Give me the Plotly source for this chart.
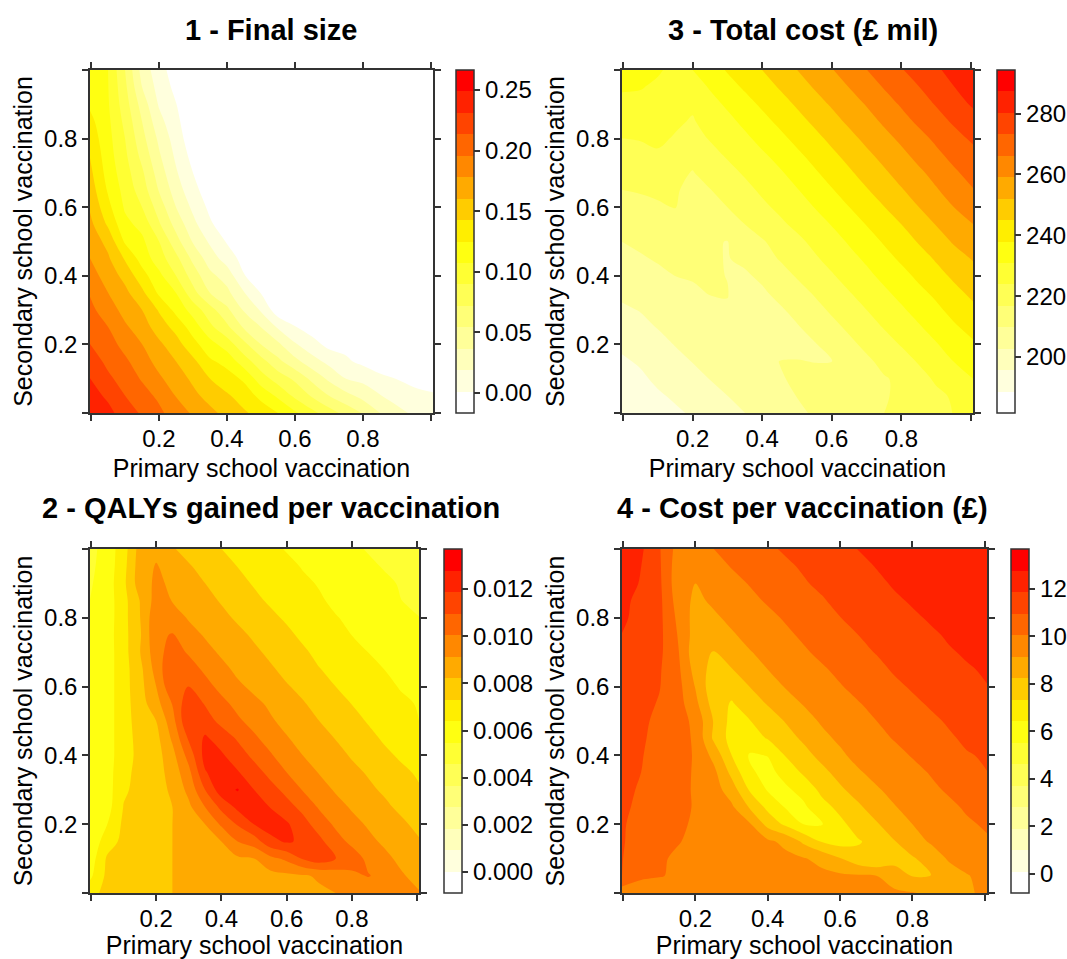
import plotly.graph_objects as go

W, H = 1067, 959
FONT = "Liberation Sans"
GRID = [-0.003, 0.05, 0.1, 0.15, 0.2, 0.25, 0.3, 0.35, 0.4, 0.45, 0.5, 0.55, 0.6, 0.65, 0.7, 0.75, 0.8, 0.85, 0.9, 0.95, 1.006]
Y_UP = [0, 0.05, 0.1, 0.15, 0.2, 0.25, 0.3, 0.35, 0.4, 0.45, 0.5, 0.55, 0.6, 0.65, 0.7, 0.75, 0.8, 0.85, 0.9, 0.95, 1]
Y_DOWN = Y_UP[::-1]

BAND_COLOURS = ["#FFFFFF", "#FFFFDD", "#FFFFBB", "#FFFF99", "#FFFF77", "#FFFF55", "#FFFF33", "#FFFF11",
                "#FFEE00", "#FFCC00", "#FFAA00", "#FF8800", "#FF6600", "#FF4400", "#FF2200", "#FF0000"]

# Panel 1: one list per primary coverage column, secondary coverage rising from 0 to 1
final_size_columns = [
    [.245,.238,.2313,.223,.2136,.207,.2,.1945,.186,.1782,.171,.165,.1585,.152,.147,.142,.136,.13,.122,.116,.11],
    [.236,.228,.217,.209,.203,.1959,.187,.1782,.17,.163,.155,.14,.13,.123,.118,.115,.113,.111,.109,.108,.1074],
    [.223,.2136,.206,.199,.19,.181,.172,.165,.155,.141,.1225,.112,.105,.101,.097,.093,.0897,.085,.08,.076,.072],
    [.211,.203,.194,.186,.1782,.169,.1605,.147,.132,.118,.111,.102,.0897,.081,.075,.067,.06,.0543,.047,.0366,.03],
    [.2,.192,.181,.172,.164,.152,.141,.122,.112,.098,.0897,.074,.064,.053,.046,.039,.033,.025,.017,.012,.008],
    [.186,.1775,.169,.1605,.15,.137,.12,.1074,.0897,.077,.061,.048,.0366,.028,.021,.0155,.0105,.0055,.0015,-.0034,-.0075],
    [.176,.165,.157,.147,.131,.117,.1,.078,.064,.05,.035,.024,.015,.0065,.0012,-.005,-.0106,-.012,-.005,0,0],
    [.165,.154,.1428,.128,.114,.094,.079,.0543,.041,.028,.016,.004,-.003,-.0082,-.005,0,0,0,0,0,0],
    [.155,.145,.133,.119,.099,.076,.058,.041,.029,.011,-.0004,-.01,0,0,0,0,0,0,0,0,0],
    [.145,.135,.122,.098,.077,.052,.035,.02,.0018,-.0053,0,0,0,0,0,0,0,0,0,0,0],
    [.136,.12,.098,.079,.0543,.0366,.017,.0005,-.004,0,0,0,0,0,0,0,0,0,0,0,0],
    [.125,.104,.082,.059,.04,.017,-.0093,-.004,0,0,0,0,0,0,0,0,0,0,0,0,0],
    [.11,.086,.0685,.042,.021,.002,-.006,0,0,0,0,0,0,0,0,0,0,0,0,0,0],
    [.095,.07,.05,.026,.008,-.007,0,0,0,0,0,0,0,0,0,0,0,0,0,0,0],
    [.08,.0543,.033,.014,-.004,0,0,0,0,0,0,0,0,0,0,0,0,0,0,0,0],
    [.066,.042,.0189,.004,-.004,0,0,0,0,0,0,0,0,0,0,0,0,0,0,0,0],
    [.053,.031,.014,-.003,0,0,0,0,0,0,0,0,0,0,0,0,0,0,0,0,0],
    [.0366,.02,.006,-.01,0,0,0,0,0,0,0,0,0,0,0,0,0,0,0,0,0],
    [.025,.011,.0007,-.004,0,0,0,0,0,0,0,0,0,0,0,0,0,0,0,0,0],
    [.0155,.0045,-.0021,0,0,0,0,0,0,0,0,0,0,0,0,0,0,0,0,0,0],
    [.008,.0018,-.0012,0,0,0,0,0,0,0,0,0,0,0,0,0,0,0,0,0,0],
]

# Panels 2-4: one list per secondary coverage row, from 1 down to 0
qalys_thousandths = [
    [5.2,5.9,6.9,8.6,8.9,8.3,7.95,7.6,7.32,7.1,6.85,6.6,6.35,6.15,5.95,5.8,5.6,5.45,5.3,5.2,5.1],
    [5.3,5.9,7.0,8.7,9.2,8.8,8.3,7.95,7.6,7.3,7.1,6.85,6.6,6.35,6.15,5.95,5.8,5.6,5.45,5.3,5.2],
    [5.4,5.95,7.1,8.7,9.3,9.0,8.65,8.23,7.9,7.55,7.25,7.0,6.8,6.55,6.35,6.2,6.0,5.8,5.6,5.45,5.3],
    [5.5,5.95,7.0,8.25,9.5,9.1,8.8,8.5,8.15,7.85,7.5,7.2,7.0,6.7,6.5,6.25,6.1,5.95,5.75,5.5,5.4],
    [5.55,5.95,7.0,8.2,9.8,9.6,9.05,8.75,8.45,8.1,7.8,7.5,7.2,6.95,6.65,6.45,6.25,6.05,5.85,5.65,5.5],
    [5.6,6.0,7.0,8.1,9.9,10.1,9.5,9.05,8.75,8.45,8.1,7.85,7.5,7.15,6.9,6.65,6.4,6.2,6.0,5.85,5.65],
    [5.65,6.0,6.95,8.2,9.7,10.45,9.95,9.45,9.0,8.7,8.4,8.05,7.75,7.45,7.1,6.85,6.65,6.4,6.2,6.0,5.85],
    [5.7,6.0,6.95,7.95,9.5,10.95,10.45,9.9,9.4,8.95,8.65,8.35,8.0,7.7,7.35,7.1,6.9,6.65,6.4,6.2,6.05],
    [5.75,6.0,6.95,7.9,9.14,10.85,10.97,10.35,9.8,9.3,8.95,8.6,8.3,8.0,7.65,7.32,7.1,6.9,6.6,6.35,6.2],
    [5.8,6.0,6.95,7.8,8.8,10.1,11.6,10.9,10.3,9.8,9.35,9.0,8.6,8.3,7.95,7.7,7.3,7.1,6.85,6.55,6.35],
    [5.85,6.0,6.95,7.7,8.23,9.7,11.88,11.4,10.7,10.2,9.75,9.25,8.9,8.55,8.23,7.9,7.6,7.25,7.0,6.7,6.4],
    [5.9,6.0,6.95,7.6,7.95,9.3,11.1,12.0,11.5,10.85,10.2,9.7,9.2,8.85,8.55,8.2,7.9,7.55,7.2,6.95,6.65],
    [5.95,6.0,6.95,7.55,7.85,8.85,10.4,12.2,12.0,11.4,10.75,10.15,9.6,9.14,8.85,8.5,8.15,7.85,7.5,7.2,6.9],
    [5.95,6.0,7.1,7.55,7.85,8.6,9.8,11.8,12.4,11.95,11.35,10.7,10.06,9.55,9.1,8.8,8.45,8.15,7.8,7.5,7.2],
    [5.9,6.0,7.2,7.55,7.85,8.4,9.4,10.97,12.4,12.85,11.88,11.3,10.7,10.0,9.5,9.05,8.75,8.4,8.1,7.75,7.4],
    [5.85,6.05,7.35,7.6,7.9,8.23,8.95,10.06,11.2,12.1,12.4,11.85,11.3,10.7,9.95,9.45,9.05,8.7,8.4,8.05,7.7],
    [5.7,6.4,7.5,7.7,7.9,8.23,8.7,9.14,10.2,11.05,11.88,12.3,12.0,11.3,10.55,9.9,9.4,9.05,8.75,8.4,8.0],
    [5.7,6.9,7.55,7.7,7.95,8.23,8.55,8.85,9.14,10.06,10.5,11.6,12.0,11.7,11.2,10.4,9.85,9.35,9.0,8.65,8.3],
    [5.9,7.45,7.7,7.8,8.0,8.23,8.4,8.6,8.8,9.0,9.14,9.8,10.25,11.05,11.5,11.0,10.5,9.85,9.35,8.95,8.55],
    [6.2,7.55,7.7,7.85,8.05,8.23,8.35,8.45,8.55,8.65,8.75,8.85,8.95,9.05,9.25,9.55,9.85,10.1,9.8,9.25,8.85],
    [7.0,7.6,7.7,7.9,8.05,8.23,8.3,8.4,8.45,8.55,8.6,8.7,8.8,8.9,9.0,9.14,9.3,9.45,9.45,9.4,9.2],
]

total_cost = [
    [233,232.5,231.5,229.5,230.9,234.8,238.5,241.8,245,248.5,252,255.3,258.7,262.3,266,269.7,272.7,276,279,282.8,286],
    [231.5,231.2,230,227,227.5,231.5,235.5,238.8,242,245.5,249,252.5,255.7,259.2,262.5,266.5,270,273,276.5,280,283.5],
    [229.5,229.5,228,226,224.5,228.5,232,235.7,239,242.3,245.8,249.3,252.8,256,259.5,263.3,266.8,270.2,273.6,277.5,281],
    [227,226.7,225.3,224.5,223.5,225.5,229,232.5,236,239.3,242.7,246.2,249.7,253.3,256.5,260.1,263.8,267.3,270.7,274,277.5],
    [223.8,224.2,224.6,223.5,221.5,224.3,226.5,229.5,233,236.2,239.7,243,246.6,250,253.7,257,260.4,264,267.4,270.8,274.3],
    [221.5,222,223.3,221.5,218.5,221.6,224.5,227,229.8,233,236.5,240,243.5,247,250.5,254,257.3,261,264.5,267.9,271],
    [218.5,219,219.8,218.3,216.5,219,221.8,224.6,227.5,230,233.4,237,240.5,244,247.5,251,254.5,257.8,261.2,265,268.5],
    [216.8,217.3,217.7,217.3,215.5,216.6,219.3,222,225,227.8,230.5,234,237.5,241,244.5,248,251.5,255,258.5,262,265.8],
    [214.5,215.2,216.2,217,214,214.8,216.8,219.5,222.5,225.2,228.3,231,234.5,237.9,241.5,244.8,248.3,252,255.5,259,262.5],
    [212.3,213,213.8,214.7,213,211.5,214,216.8,219.7,222.5,225.5,228.3,231.2,234.6,238.2,241.8,245,248.5,252.3,255.7,259],
    [209.8,210.7,211.5,212.5,212,210.5,209.6,213.5,216.2,219.3,222.2,225.5,228.3,231.6,235,238.6,242,245.5,248.9,252.7,256],
    [208,209.3,210.2,210.9,211,210.6,209.5,211,214.2,217.2,220,222.9,226,228.9,232,235.7,239,242.2,245.7,249.2,252.5],
    [206,207.3,208.8,209.8,210.2,210.2,209.7,208.9,211,214,217.4,220.2,223.2,226.5,229.3,232.6,235.9,239.3,242.7,246.1,249.5],
    [204,205.2,206.5,207.8,209,210,209.9,207.8,208.8,211.5,214.2,217.4,220.2,223.5,226.7,229.6,232.9,236.3,239.3,243,246.5],
    [201.7,203,204.5,205.8,207,208.3,209.5,206.2,206.9,208.9,211.6,214.6,217.8,220.7,223.8,226.9,229.9,233.3,236.5,240,243.5],
    [199.3,201,203,204.2,205,205.8,205.7,205.3,205.6,207.2,209.2,212,215,218,221,224.2,227.2,230.2,233.6,236.9,240.3],
    [197,198.5,200.6,203,203.5,204,204.5,204.8,205,205.6,207.3,209.3,212,215.3,218.3,221.2,224.3,227.3,230.4,233.9,237],
    [194.7,196.5,198.5,200.8,202.9,203.8,204.5,205.2,208,209.9,210.1,209.6,209.6,211.6,215.6,218.5,221.2,224.4,227.5,230.9,233.5],
    [192.7,194.5,197,199,201,202.9,204.5,206,207.7,209.2,210.8,212,213.2,214.3,215.2,216.3,218,221.6,224.8,227.9,230.9],
    [191,192.7,194.8,196.7,198.7,200.7,202.7,204.5,206.2,208,209.9,211,212.3,213.4,214.6,216.3,217.9,220,222.5,224.6,228],
    [189,191,192.7,194.6,196.5,198.5,200.6,202.7,204.5,206.5,208.7,210.4,211.8,213.2,214.8,216.8,218.5,220.2,222,224,226],
]

cost_per_vaccination = [
    [12.5,12.0,11.05,9.75,9.6,10.05,10.3,10.55,10.85,11.05,11.25,11.45,11.7,11.88,12.05,12.2,12.3,12.4,12.5,12.6,12.7],
    [12.4,11.87,11.1,9.6,9.3,9.75,10.1,10.35,10.6,10.85,11.05,11.25,11.45,11.65,11.9,12.05,12.2,12.3,12.4,12.5,12.6],
    [12.25,11.8,11.15,9.55,9.15,9.45,9.8,10.1,10.35,10.6,10.9,11.1,11.3,11.5,11.7,11.95,12.1,12.2,12.3,12.4,12.5],
    [12.1,11.6,11.2,9.7,8.95,9.3,9.55,9.85,10.15,10.4,10.65,10.9,11.15,11.3,11.55,11.75,11.95,12.1,12.2,12.3,12.4],
    [12.0,11.6,11.2,9.9,8.8,9.0,9.35,9.6,9.85,10.15,10.4,10.65,10.95,11.15,11.35,11.55,11.75,11.95,12.1,12.2,12.3],
    [11.85,11.45,11.2,10.05,8.75,8.6,9.05,9.4,9.6,9.9,10.2,10.45,10.7,10.96,11.15,11.35,11.55,11.75,11.95,12.1,12.2],
    [11.7,11.4,11.15,10.2,8.55,8.2,8.75,9.1,9.4,9.7,9.95,10.25,10.5,10.75,11.0,11.2,11.4,11.6,11.8,11.95,12.1],
    [11.6,11.3,11.05,10.3,8.8,7.9,8.2,8.75,9.15,9.4,9.7,9.95,10.25,10.5,10.75,11.05,11.25,11.45,11.65,11.8,11.95],
    [11.5,11.25,11.0,10.4,9.1,7.6,7.7,8.25,8.8,9.2,9.45,9.7,10.0,10.3,10.55,10.8,11.05,11.25,11.45,11.65,11.85],
    [11.45,11.2,10.9,10.45,9.4,7.85,7.25,7.8,8.3,8.85,9.2,9.5,9.75,10.0,10.3,10.55,10.8,11.05,11.25,11.45,11.6],
    [11.35,11.1,10.8,10.5,9.8,8.2,7.05,7.3,7.8,8.3,8.85,9.25,9.5,9.8,10.05,10.3,10.55,10.8,11.05,11.25,11.4],
    [11.3,11.05,10.75,10.5,9.9,8.1,7.0,6.9,7.4,7.9,8.4,8.95,9.3,9.55,9.85,10.1,10.35,10.6,10.85,11.1,11.2],
    [11.25,11.0,10.7,10.5,9.95,8.9,7.34,6.35,6.45,7.4,7.95,8.5,9.0,9.4,9.65,9.85,10.1,10.35,10.6,10.9,11.05],
    [11.2,10.96,10.65,10.4,9.95,9.4,8.0,6.55,6.2,6.7,7.5,8.0,8.55,9.05,9.4,9.6,9.85,10.1,10.35,10.65,10.95],
    [11.1,10.9,10.6,10.35,9.95,9.55,8.7,7.25,6.35,6.3,6.7,7.6,8.1,8.6,9.05,9.4,9.6,9.9,10.15,10.4,10.65],
    [11.1,10.8,10.5,10.25,10.0,9.55,9.3,8.15,7.1,6.35,6.3,7.0,7.6,8.1,8.65,9.1,9.45,9.65,9.9,10.15,10.35],
    [11.05,10.65,10.4,10.2,9.95,9.7,9.5,9.25,7.95,7.15,6.4,6.4,7.1,7.75,8.15,8.7,9.15,9.45,9.7,9.95,10.15],
    [11.05,10.5,10.3,10.1,9.9,9.7,9.6,9.45,9.3,8.95,8.05,7.25,6.95,7.25,7.65,8.2,8.75,9.25,9.55,9.8,9.97],
    [11.0,10.3,10.15,9.95,9.85,9.7,9.6,9.55,9.45,9.35,9.2,8.9,8.3,7.65,7.35,7.8,8.15,8.6,9.25,9.5,9.7],
    [10.98,10.2,10.1,9.95,9.8,9.7,9.6,9.55,9.5,9.45,9.4,9.35,9.3,9.25,9.15,8.85,8.2,8.2,8.7,9.1,9.4],
    [9.5,9.6,9.6,9.55,9.5,9.5,9.5,9.45,9.45,9.4,9.4,9.4,9.35,9.35,9.3,9.25,9.2,9.0,8.95,9.05,9.3],
]

TITLES = ["1 - Final size", "3 - Total cost (£ mil)", "2 - QALYs gained per vaccination", "4 - Cost per vaccination (£)"]
X_LABEL = "Primary school vaccination"
Y_LABEL = "Secondary school vaccination"
AXIS_TICKS = [0, 0.2, 0.4, 0.6, 0.8, 1]
AXIS_LABELS = ["", "0.2", "0.4", "0.6", "0.8", ""]
CB_TICKS = [
    [0, 0.05, 0.10, 0.15, 0.20, 0.25],
    [200, 220, 240, 260, 280],
    [0, 0.002, 0.004, 0.006, 0.008, 0.010, 0.012],
    [0, 2, 4, 6, 8, 10, 12],
]
CB_LABELS = [
    ["0.00", "0.05", "0.10", "0.15", "0.20", "0.25"],
    ["200", "220", "240", "260", "280"],
    ["0.000", "0.002", "0.004", "0.006", "0.008", "0.010", "0.012"],
    ["0", "2", "4", "6", "8", "10", "12"],
]
Z_RANGES = [(-0.0165, 0.2665), (181.6, 294.3), (-0.00089, 0.0137), (-0.82, 13.68)]

qalys = [[v / 1000 for v in row] for row in qalys_thousandths]
SURFACES = [
    dict(z=final_size_columns, y=Y_UP, transpose=True),
    dict(z=total_cost, y=Y_DOWN),
    dict(z=qalys, y=Y_DOWN),
    dict(z=cost_per_vaccination, y=Y_DOWN),
]

# pixel boxes: left, right, top, bottom, colourbar left, title centre x, title centre y
BOXES = [
    (90, 433, 70, 413, 456, 271, 30),
    (622, 973, 70, 413, 997, 803, 30),
    (90, 419, 549, 893, 444, 271, 508),
    (622, 987, 549, 893, 1011, 802, 508),
]

stepped = []
for i, c in enumerate(BAND_COLOURS):
    stepped += [[i / 16, c], [(i + 1) / 16, c]]

fig = go.Figure()
layout = dict(
    width=W, height=H, template="none", showlegend=False,
    margin=dict(l=0, r=0, t=0, b=0, autoexpand=False),
    paper_bgcolor="white", plot_bgcolor="white",
    font=dict(family=FONT, size=24, color="black"),
    annotations=[],
)
for i, (surf, box) in enumerate(zip(SURFACES, BOXES)):
    left, right, top, bottom, cb_left, tx, ty = box
    lo, hi = Z_RANGES[i]
    step = (hi - lo) / 16
    n = "" if i == 0 else str(i + 1)
    fig.add_trace(go.Contour(
        x=GRID, xaxis="x" + n, yaxis="y" + n,
        zmin=lo, zmax=hi, autocontour=False,
        contours=dict(coloring="fill", showlines=False, start=lo + step, end=hi - step, size=step),
        line=dict(width=0),
        colorscale=stepped,
        colorbar=dict(
            x=cb_left / W, xanchor="left", xpad=0, ypad=0,
            y=1 - bottom / H, yanchor="bottom", len=(bottom - top) / H, lenmode="fraction",
            thickness=18, thicknessmode="pixels",
            outlinecolor="#333", outlinewidth=1.5,
            tickmode="array", tickvals=CB_TICKS[i], ticktext=CB_LABELS[i],
            ticks="outside", ticklen=6, tickcolor="#333", tickwidth=1.5,
            tickfont=dict(family=FONT, size=24),
        ),
        **surf,
    ))
    common = dict(
        tickmode="array", tickvals=AXIS_TICKS, ticktext=AXIS_LABELS,
        ticks="outside", ticklen=6, tickcolor="#333", tickwidth=1.5,
        showline=True, linecolor="#333", linewidth=1.5, mirror="ticks",
        showgrid=False, zeroline=False, automargin=False,
        tickfont=dict(family=FONT, size=24),
    )
    layout["xaxis" + n] = dict(
        common, domain=[left / W, right / W], range=[-0.003, 1.006], anchor="y" + n,
        ticklabelstandoff=-3,
        title=dict(text=X_LABEL, font=dict(family=FONT, size=25), standoff=9),
    )
    layout["yaxis" + n] = dict(
        common, domain=[1 - bottom / H, 1 - top / H], range=[0, 1], anchor="x" + n,
        title=dict(text=Y_LABEL, font=dict(family=FONT, size=25), standoff=4),
    )
    layout["annotations"].append(dict(
        text="<b>" + TITLES[i] + "</b>", x=tx / W, y=1 - ty / H, xref="paper", yref="paper",
        xanchor="center", yanchor="middle", showarrow=False,
        font=dict(family=FONT, size=29, color="black"),
    ))
fig.update_layout(**layout)
fig.write_html("out.html", config={"displayModeBar": False}, post_script="document.body.style.margin='0';")
